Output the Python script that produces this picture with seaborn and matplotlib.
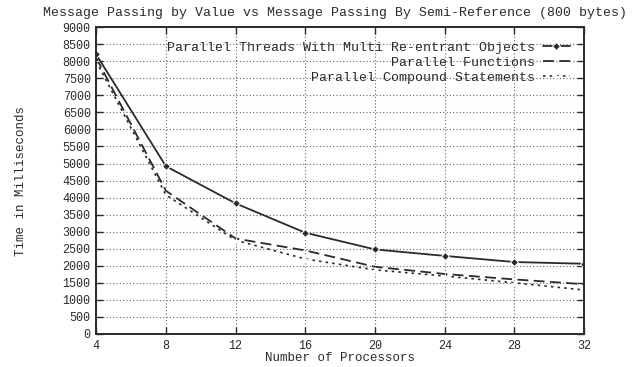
import pandas as pd
import seaborn as sns
import matplotlib.pyplot as plt

processors = [4, 8, 12, 16, 20, 24, 28, 32]
threads_reentrant = [8200, 4920, 3830, 2970, 2480, 2290, 2110, 2060]
parallel_functions = [8100, 4200, 2800, 2450, 1970, 1760, 1600, 1460]
compound_statements = [8000, 4080, 2750, 2200, 1880, 1700, 1500, 1290]

labels = [
    "Parallel Threads With Multi Re-entrant Objects",
    "Parallel Functions",
    "Parallel Compound Statements",
]
title = "Message Passing by Value vs Message Passing By Semi-Reference (800 bytes)"

sns.set_style("ticks")
plt.rcParams['font.family'] = ['Liberation Mono', 'DejaVu Sans Mono']

fig = plt.figure(figsize=(6.37, 3.67), dpi=100)
ax = fig.add_axes([0.151, 0.090, 0.766, 0.836])

width = max(len(s) for s in labels)
padded = [s.rjust(width) for s in labels]
ink = "#2a2a2a"

sns.lineplot(x=processors, y=threads_reentrant, ax=ax, color=ink, lw=1.3,
             marker="D", markersize=4, label=padded[0])
sns.lineplot(x=processors, y=parallel_functions, ax=ax, color=ink, lw=1.3,
             linestyle=(0, (6, 3)), label=padded[1])
sns.lineplot(x=processors, y=compound_statements, ax=ax, color=ink, lw=1.2,
             linestyle=(0, (1.5, 2.5)), marker="+", markersize=5, label=padded[2])

ax.set_xlim(4, 32)
ax.set_ylim(0, 9000)
ax.set_xticks(processors)
ax.set_yticks(range(0, 9001, 500))
ax.grid(True, linestyle=(0, (1, 2)), color="#666666", lw=0.8)
ax.tick_params(direction="in", top=True, right=True, length=5, width=1,
               labelsize=8.5, colors=ink, pad=4)
for s in ax.spines.values():
    s.set_color(ink)
    s.set_linewidth(1.4)

ax.set_title(title, fontsize=9.5, color=ink, pad=8, loc="center", x=0.49)
ax.set_xlabel("Number of Processors", fontsize=9, color=ink, labelpad=0)
ax.set_ylabel("Time in Milliseconds", fontsize=9, color=ink, labelpad=26)

leg = ax.legend(loc="upper right", frameon=False, markerfirst=False,
                fontsize=9.5, handlelength=2.0, labelspacing=0.2,
                borderaxespad=0.7, handletextpad=0.6)
for t in leg.get_texts():
    t.set_color(ink)

fig.savefig("out.png", dpi=100)
